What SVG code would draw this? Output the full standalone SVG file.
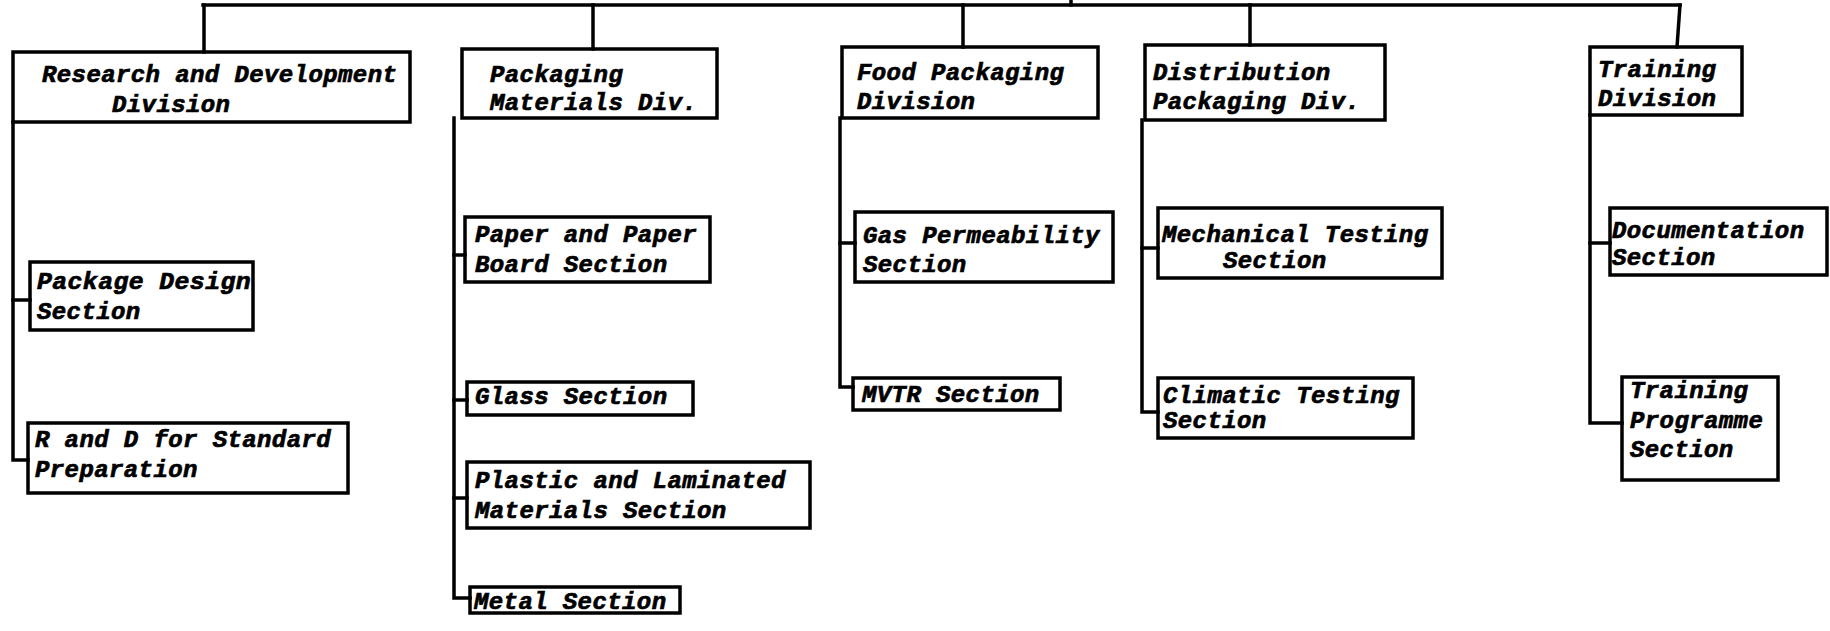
<svg xmlns="http://www.w3.org/2000/svg" width="1830" height="631" viewBox="0 0 1830 631">
<style>
.box{fill:none;stroke:#000;stroke-width:3.5;stroke-linejoin:miter}
.ln{fill:none;stroke:#000;stroke-width:3.5;stroke-linecap:square}
text{font-family:"Liberation Mono","DejaVu Sans Mono",monospace;font-weight:bold;font-style:italic;font-size:24px;letter-spacing:0.4px;fill:#000;stroke:#000;stroke-width:0.7}
</style>
<rect width="1830" height="631" fill="#fff"/>
<g id="connectors">
<path class="ln" d="M203,5 H1680"/>
<path class="ln" d="M1071,1 V5"/>
<path class="ln" d="M204,5 V52"/>
<path class="ln" d="M593,5 V49"/>
<path class="ln" d="M963,5 V47"/>
<path class="ln" d="M1250,5 V45"/>
<path class="ln" d="M1680,5 L1677,47"/>
<path class="ln" d="M13,122 V460 H28"/>
<path class="ln" d="M13,300 H30"/>
<path class="ln" d="M454,118 V598 H470"/>
<path class="ln" d="M454,255 H465"/>
<path class="ln" d="M454,400 H467"/>
<path class="ln" d="M454,498 H467"/>
<path class="ln" d="M840,118 V387 H853"/>
<path class="ln" d="M840,243 H855"/>
<path class="ln" d="M1142,120 V412 H1158"/>
<path class="ln" d="M1142,248 H1158"/>
<path class="ln" d="M1590,115 V423 H1622"/>
<path class="ln" d="M1590,243 H1610"/>
</g>
<g id="rd-division">
<rect class="box" x="13" y="52" width="397" height="70"/>
<text x="42" y="82">Research and Development</text>
<text x="112" y="112">Division</text>
</g>
<g id="pm-division">
<rect class="box" x="462" y="49" width="255" height="69"/>
<text x="490" y="82">Packaging</text>
<text x="490" y="110">Materials Div.</text>
</g>
<g id="food-division">
<rect class="box" x="842" y="47" width="256" height="71"/>
<text x="857" y="80">Food Packaging</text>
<text x="857" y="109">Division</text>
</g>
<g id="dist-division">
<rect class="box" x="1145" y="45" width="240" height="75"/>
<text x="1153" y="80">Distribution</text>
<text x="1153" y="109">Packaging Div.</text>
</g>
<g id="training-division">
<rect class="box" x="1590" y="47" width="152" height="68"/>
<text x="1598" y="77">Training</text>
<text x="1598" y="106">Division</text>
</g>
<g id="package-design">
<rect class="box" x="30" y="262" width="223" height="68"/>
<text x="37" y="289" textLength="214" lengthAdjust="spacingAndGlyphs">Package Design</text>
<text x="37" y="319">Section</text>
</g>
<g id="rd-standard">
<rect class="box" x="28" y="423" width="320" height="70"/>
<text x="35" y="447">R and D for Standard</text>
<text x="35" y="477">Preparation</text>
</g>
<g id="paper">
<rect class="box" x="465" y="217" width="245" height="65"/>
<text x="475" y="242">Paper and Paper</text>
<text x="475" y="272">Board Section</text>
</g>
<g id="glass">
<rect class="box" x="467" y="382" width="226" height="33"/>
<text x="475" y="404">Glass Section</text>
</g>
<g id="plastic">
<rect class="box" x="467" y="462" width="343" height="66"/>
<text x="475" y="488">Plastic and Laminated</text>
<text x="475" y="518">Materials Section</text>
</g>
<g id="metal">
<rect class="box" x="470" y="587" width="210" height="26"/>
<text x="474" y="609">Metal Section</text>
</g>
<g id="gas">
<rect class="box" x="855" y="212" width="258" height="70"/>
<text x="863" y="243">Gas Permeability</text>
<text x="863" y="272">Section</text>
</g>
<g id="mvtr">
<rect class="box" x="853" y="378" width="207" height="32"/>
<text x="862" y="402">MVTR Section</text>
</g>
<g id="mechanical">
<rect class="box" x="1158" y="208" width="284" height="70"/>
<text x="1162" y="242">Mechanical Testing</text>
<text x="1223" y="268">Section</text>
</g>
<g id="climatic">
<rect class="box" x="1158" y="378" width="255" height="60"/>
<text x="1163" y="403">Climatic Testing</text>
<text x="1163" y="428">Section</text>
</g>
<g id="documentation">
<rect class="box" x="1610" y="208" width="217" height="67"/>
<text x="1612" y="238">Documentation</text>
<text x="1612" y="265">Section</text>
</g>
<g id="training-programme">
<rect class="box" x="1622" y="377" width="156" height="103"/>
<text x="1630" y="398">Training</text>
<text x="1630" y="428">Programme</text>
<text x="1630" y="457">Section</text>
</g>
</svg>
